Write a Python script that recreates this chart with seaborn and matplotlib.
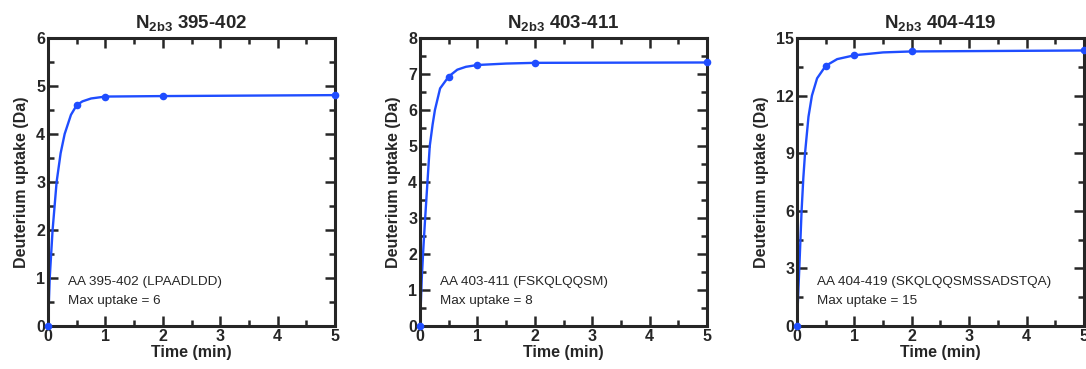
import numpy as np
import pandas as pd
import matplotlib
matplotlib.use("Agg")
import matplotlib.pyplot as plt
import seaborn as sns
from matplotlib.ticker import MultipleLocator

sns.set_style("ticks")
plt.rcParams['font.family'] = ['Liberation Sans', 'DejaVu Sans']
plt.rcParams['mathtext.fontset'] = 'custom'
plt.rcParams['mathtext.rm'] = 'Liberation Sans'
plt.rcParams['mathtext.bf'] = 'Liberation Sans:bold'

# peptide labels
titles = ["395-402", "403-411", "404-419"]
sequences = ["LPAADLDD", "FSKQLQQSM", "SKQLQQSMSSADSTQA"]
max_uptake = [6, 8, 15]

# measured time points (min) and uptake (Da)
time_pts = [0, 0.5, 1, 2, 5]
uptake_395 = [0, 4.60, 4.78, 4.79, 4.81]
uptake_403 = [0, 6.93, 7.25, 7.31, 7.32]
uptake_404 = [0, 13.55, 14.10, 14.30, 14.35]

# fitted curves
fit_t_395 = [0, 0.03, 0.08, 0.15, 0.22, 0.29, 0.4, 0.5, 0.6, 0.75, 1.0, 2.0, 5.0]
fit_y_395 = [0, 1.0, 2.0, 3.0, 3.6, 4.0, 4.4, 4.6, 4.68, 4.74, 4.78, 4.79, 4.81]
fit_t_403 = [0, 0.03, 0.06, 0.09, 0.13, 0.17, 0.22, 0.26, 0.35, 0.5, 0.65, 0.8, 1.0, 1.5, 2.0, 5.0]
fit_y_403 = [0, 1.3, 2.2, 3.0, 4.0, 5.0, 5.6, 6.0, 6.6, 6.93, 7.12, 7.2, 7.25, 7.29, 7.31, 7.32]
fit_t_404 = [0, 0.02, 0.04, 0.08, 0.11, 0.14, 0.2, 0.26, 0.35, 0.5, 0.7, 1.0, 1.5, 2.0, 5.0]
fit_y_404 = [0, 1.6, 3.0, 6.0, 7.7, 9.0, 10.9, 12.0, 12.9, 13.55, 13.9, 14.1, 14.25, 14.3, 14.35]

y_major = [1, 1, 3]
points = [uptake_395, uptake_403, uptake_404]
fits = [(fit_t_395, fit_y_395), (fit_t_403, fit_y_403), (fit_t_404, fit_y_404)]

blue = "#1f4dff"
fig = plt.figure(figsize=(10.86, 3.69), dpi=100)
lefts = [48, 420, 797]

for i in range(3):
    ax = fig.add_axes([lefts[i] / 1086, 43 / 369, 287 / 1086, 288 / 369])
    fit_df = pd.DataFrame({"t": fits[i][0], "y": fits[i][1]})
    pt_df = pd.DataFrame({"t": time_pts, "y": points[i]})
    sns.lineplot(data=fit_df, x="t", y="y", ax=ax, color=blue, lw=1.7)
    sns.scatterplot(data=pt_df, x="t", y="y", ax=ax, color=blue, s=30,
                    edgecolor=blue, linewidth=0, zorder=5, clip_on=False)
    ax.set_xlim(0, 5)
    ax.set_ylim(0, max_uptake[i])
    ax.xaxis.set_major_locator(MultipleLocator(1))
    ax.xaxis.set_minor_locator(MultipleLocator(0.5))
    ax.yaxis.set_major_locator(MultipleLocator(y_major[i]))
    ax.yaxis.set_minor_locator(MultipleLocator(y_major[i] / 2))
    ax.tick_params(which="both", direction="in", top=True, right=True,
                   width=1.8, labelsize=11.5, pad=2)
    ax.tick_params(which="major", length=7)
    ax.tick_params(which="minor", length=4.5)
    for lab in ax.get_xticklabels() + ax.get_yticklabels():
        lab.set_fontweight("bold")
    for sp in ax.spines.values():
        sp.set_linewidth(2.2)
    ax.set_xlabel("Time (min)", fontsize=11.5, fontweight="bold", labelpad=1)
    ax.set_ylabel("Deuterium uptake (Da)", fontsize=11.5, fontweight="bold", labelpad=5)
    ax.set_title(r"N$_{\mathbf{2b3}}$ " + titles[i], fontsize=13.5,
                 fontweight="bold", pad=7)
    ax.text(0.07, 0.153, f"AA {titles[i]} ({sequences[i]})", transform=ax.transAxes,
            fontsize=9.7, va="center")
    ax.text(0.07, 0.087, f"Max uptake = {max_uptake[i]}", transform=ax.transAxes,
            fontsize=9.7, va="center")

fig.savefig("out.png", dpi=100)
